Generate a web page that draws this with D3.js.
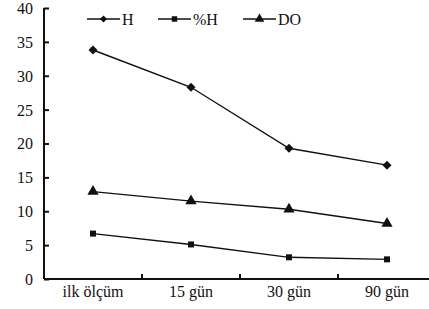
<!DOCTYPE html>
<html>
<head>
<meta charset="utf-8">
<script src="https://cdn.jsdelivr.net/npm/d3@7"></script>
<style>
  body { margin: 0; background: #fff; }
  svg text { font-family: "Times New Roman", "Liberation Serif", "DejaVu Serif", serif !important; fill: #111; }
</style>
</head>
<body>
<div id="chart"></div>
<script>
// data
var categories = ["ilk ölçüm", "15 gün", "30 gün", "90 gün"];
var hValues = [33.8, 28.3, 19.3, 16.8];
var pctHValues = [6.7, 5.1, 3.2, 2.9];
var doValues = [12.9, 11.5, 10.3, 8.2];
var yTicks = [0, 5, 10, 15, 20, 25, 30, 35, 40];

var svgWidth = 429;
var svgHeight = 309;

var margin = { top: 8, right: 0, bottom: 30, left: 44 };
var height = svgHeight - margin.top - margin.bottom;
var width = 392; // plot runs past the right edge, as in the reference

var svg = d3.select("#chart")
  .append("svg")
  .attr("width", svgWidth)
  .attr("height", svgHeight);

var chartGroup = svg.append("g")
  .attr("transform", `translate(${margin.left}, ${margin.top})`);

// scales
var xScale = d3.scaleBand()
  .domain(categories)
  .range([0, width]);

var yScale = d3.scaleLinear()
  .domain([0, 40])
  .range([height, 0]);

// y axis, ticks pointing inward
var yAxis = d3.axisLeft(yScale)
  .tickValues(yTicks)
  .tickSize(-5)
  .tickPadding(11);

var yAxisG = chartGroup.append("g").call(yAxis);
yAxisG.select(".domain").attr("d", `M0,0V${height}`);

// x axis, ticks on the band edges
var xAxisG = chartGroup.append("g")
  .attr("transform", `translate(0, ${height})`)
  .call(d3.axisBottom(xScale).tickSize(0).tickPadding(7));

xAxisG.select(".domain").attr("d", `M0,0H${width}`);

xAxisG.selectAll(".edge")
  .data(categories.slice(1))
  .enter()
  .append("line")
  .attr("class", "edge")
  .attr("x1", d => xScale(d))
  .attr("x2", d => xScale(d))
  .attr("y1", 0)
  .attr("y2", -5);

svg.selectAll("g").attr("font-family", null);

svg.selectAll(".domain, .tick line, .edge")
  .attr("stroke", "#111")
  .attr("stroke-width", 2);

svg.selectAll(".tick text")
  .attr("font-size", 16)
  .attr("fill", "#111");

yAxisG.selectAll(".tick text").attr("dy", "0.34em");

// series
var series = [
  { key: "h", name: "H", values: hValues, symbol: d3.symbolSquare, size: 40, legendSize: 26, rotate: 45 },
  { key: "ph", name: "%H", values: pctHValues, symbol: d3.symbolSquare, size: 36, legendSize: 30, rotate: 0 },
  { key: "do", name: "DO", values: doValues, symbol: d3.symbolTriangle, size: 55, legendSize: 40, rotate: 0 }
];

var line = d3.line()
  .x((d, i) => xScale(categories[i]) + xScale.bandwidth() / 2)
  .y(d => yScale(d));

series.forEach(function(s) {
  chartGroup.append("path")
    .datum(s.values)
    .attr("fill", "none")
    .attr("stroke", "#111")
    .attr("stroke-width", 1.4)
    .attr("d", line);

  chartGroup.selectAll(".pt-" + s.key)
    .data(s.values)
    .enter()
    .append("path")
    .attr("class", "pt-" + s.key)
    .attr("d", d3.symbol().type(s.symbol).size(s.size))
    .attr("transform", (d, i) => `translate(${xScale(categories[i]) + xScale.bandwidth() / 2}, ${yScale(d)}) rotate(${s.rotate})`)
    .attr("fill", "#111");
});

// legend
var legendX = [87, 158, 243];
var legend = svg.append("g");

series.forEach(function(s, i) {
  var g = legend.append("g")
    .attr("transform", `translate(${legendX[i]}, 19)`);

  g.append("line")
    .attr("x1", 0)
    .attr("x2", 33)
    .attr("stroke", "#111")
    .attr("stroke-width", 1.4);

  g.append("path")
    .attr("d", d3.symbol().type(s.symbol).size(s.legendSize))
    .attr("transform", `translate(16.5, 0) rotate(${s.rotate})`)
    .attr("fill", "#111");

  g.append("text")
    .attr("x", 35)
    .attr("y", 5.5)
    .attr("font-size", 16)
    .text(s.name);
});
</script>
</body>
</html>
